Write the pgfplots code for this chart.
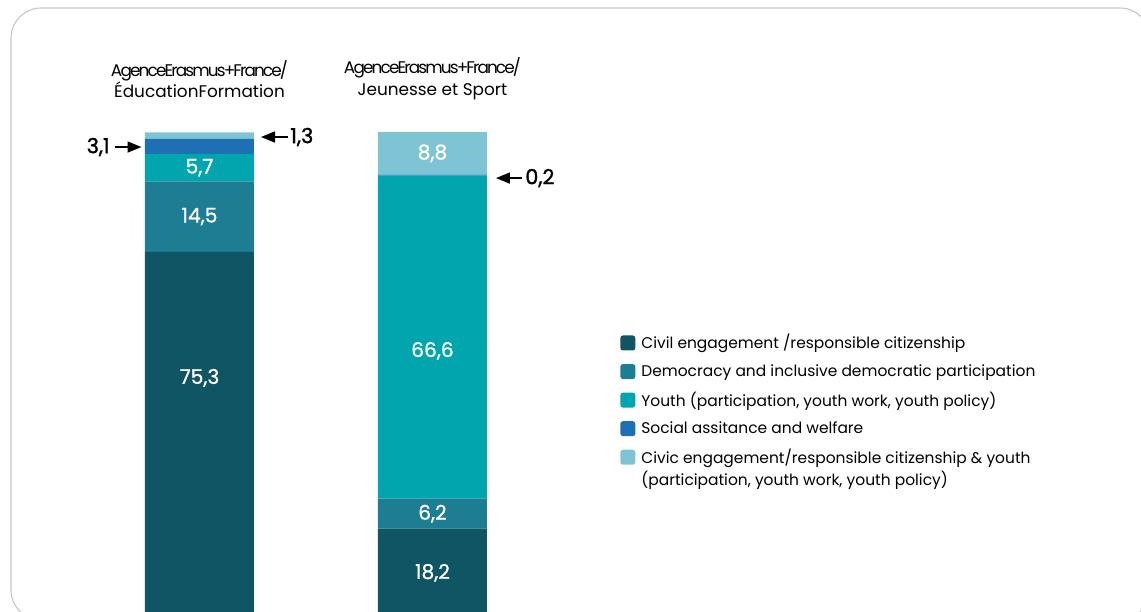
\documentclass[border=0pt]{standalone}
\usepackage{pgfplots}
\usepackage{pgfplotstable}
\pgfplotsset{compat=1.18}
\usepackage{fontspec}
\setmainfont{Poppins}
\newfontfamily\medfam{Poppins}[FakeBold=0.9]
\newfontfamily\calfam{Poppins}[FakeBold=1.4]
\newfontfamily\narrowfam{Poppins}[LetterSpace=-11]
\usetikzlibrary{arrows.meta}

\definecolor{cCivil}{HTML}{0F5563}
\definecolor{cDemo}{HTML}{1D7D93}
\definecolor{cYouth}{HTML}{00A5AD}
\definecolor{cSocial}{HTML}{1F6FB5}
\definecolor{cCivic}{HTML}{7EC4D5}
\definecolor{cFrame}{HTML}{C4C4C4}

\newcommand{\labfont}{\medfam\fontsize{11.5}{12}\selectfont}
\newcommand{\calfont}{\calfam\fontsize{11.8}{12}\selectfont}
\newcommand{\legfont}{\fontsize{8.8}{12.5}\selectfont}
\newcommand{\titfont}{\fontsize{9.6}{12.5}\selectfont}

% x = 0: Education/Formation, x = 1: Jeunesse et Sport
% (labels of the two tall segments are set by hand further down)
\pgfplotstableread{
x y    lab
0 75.3 {}
1 18.2 18,2
}\civil
\pgfplotstableread{
x y    lab
0 14.5 14,5
1 6.2  6,2
}\demo
\pgfplotstableread{
x y    lab
0 5.7  5,7
1 66.6 {}
}\youth
\pgfplotstableread{
x y    lab
0 3.1  {}
1 0.2  {}
}\social
\pgfplotstableread{
x y    lab
0 1.3  {}
1 8.8  8,8
}\civic

\begin{document}
\begin{tikzpicture}
\begin{axis}[
    scale only axis,
    width=22.82cm, height=12.24cm,
    hide axis,
    xmin=-0.8562, xmax=4.0408,
    ymin=1.03, ymax=127.22,
    ybar stacked,
    bar width=2.18cm,
    point meta=explicit symbolic,
    nodes near coords,
    every node near coord/.append style={
        font=\labfont, text=white, anchor=center},
    legend cell align=left,
    legend image code/.code={
        \fill[#1,draw=none,rounded corners=1.5pt] (0cm,-0.15cm) rectangle (0.3cm,0.15cm);},
    legend style={
        at={(axis description cs:0.5434,0.4542)}, anchor=north west,
        draw=none, fill=none, inner sep=0pt,
        font=\legfont,
        row sep=0.25cm,
        nodes={align=left, inner xsep=0.12cm, inner ysep=0pt},
    },
]
\addplot[fill=cCivil, draw=none] table[x=x, y=y, meta=lab] {\civil};
\addplot[fill=cDemo, draw=none] table[x=x, y=y, meta=lab] {\demo};
\addplot[fill=cYouth, draw=none] table[x=x, y=y, meta=lab] {\youth};
\addplot[fill=cSocial, draw=none] table[x=x, y=y, meta=lab] {\social};
\addplot[fill=cCivic, draw=none, legend image code/.code={
    \path[draw=none,fill=none] (0cm,-0.37cm) rectangle (0.3cm,0.37cm);
    \fill[cCivic,draw=none,rounded corners=1.5pt] (0cm,0.07cm) rectangle (0.3cm,0.37cm);}]
  table[x=x, y=y, meta=lab] {\civic};

\legend{Civil engagement /responsible citizenship,
  Democracy and inclusive democratic participation,
  {Youth (participation, youth work, youth policy)},
  Social assitance and welfare,
  {Civic engagement/responsible citizenship \& youth\\(participation, youth work, youth policy)}}

% positions for the labels of the tall segments (drawn after the bars)
\coordinate (labCivil) at (axis cs:0,49.3);
\coordinate (labYouth) at (axis cs:1,54.85);

% titles
\node[font=\titfont, align=center] at (axis cs:0,110.9)
  {{\narrowfam AgenceErasmus+France/}\\ÉducationFormation};
\node[font=\titfont, align=center] at (axis cs:1,110.9)
  {{\narrowfam AgenceErasmus+France/}\\Jeunesse et Sport};

% small-value callouts
\draw[line width=0.9pt, -{Triangle[length=0.28cm,width=0.22cm]}] (axis cs:-0.3627,96.9) -- (axis cs:-0.2489,96.9);
\node[font=\calfont, anchor=east, inner sep=0pt] at (axis cs:-0.384,96.9) {3,1};
\draw[line width=0.9pt, -{Triangle[length=0.28cm,width=0.22cm]}] (axis cs:0.3798,98.97) -- (axis cs:0.2640,98.97);
\node[font=\calfont, anchor=west, inner sep=0pt] at (axis cs:0.3884,98.97) {1,3};
\draw[line width=0.9pt, -{Triangle[length=0.28cm,width=0.22cm]}] (axis cs:1.3841,90.5) -- (axis cs:1.2725,90.5);
\node[font=\calfont, anchor=west, inner sep=0pt] at (axis cs:1.397,90.5) {0,2};
\end{axis}
\node[font=\labfont, text=white] at (labCivil) {75,3};
\node[font=\labfont, text=white] at (labYouth) {66,6};
\begin{scope}[shift={(current axis.south west)}]
\draw[cFrame, line width=0.6pt, rounded corners=0.6cm] (0.22,12.08) rectangle (23.0,-0.16);
\end{scope}
\pgfresetboundingbox
\useasboundingbox (current axis.south west) rectangle (current axis.north east);
\end{tikzpicture}
\end{document}
